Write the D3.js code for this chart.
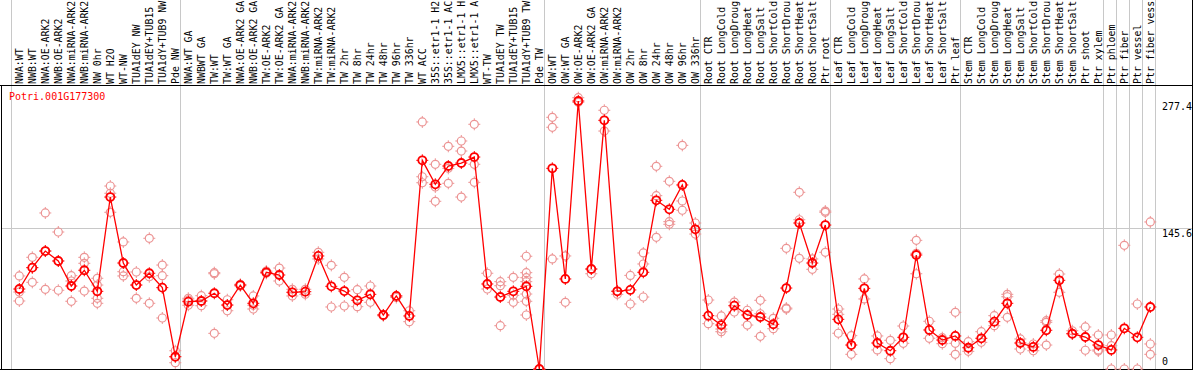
<!DOCTYPE html>
<html>
<head>
<meta charset="utf-8">
<script src="https://cdn.jsdelivr.net/npm/d3@7"></script>
<style>
body { margin: 0; background: #fff; }
svg { display: block; }
text { font-family: "DejaVu Sans Mono", monospace; font-size: 10px; }
text.lab { font-size: 9.9px; }
</style>
</head>
<body>
<div id="chart"></div>
<script>
var gene = "Potri.001G177300";

// labels as they are shown (cut to 14 characters)
var labels = [
    "NWA:WT", "NWB:WT", "NWA:OE-ARK2", "NWB:OE-ARK2", "NWA:miRNA-ARK2", "NWB:miRNA-ARK2",
    "NW 0hr", "WT H2O", "WT-NW", "TUA1dEY NW", "TUA1dEY+TUB15", "TUA1dY+TUB9 NW", "Pde NW",
    "NWA:WT GA", "NWBWT GA", "TW:WT", "TW:WT GA", "NWA:OE-ARK2 GA", "NWB:OE-ARK2 GA",
    "TW:OE-ARK2", "TW:OE-ARK2 GA", "NWA:miRNA-ARK2", "NWB:miRNA-ARK2", "TW:miRNA-ARK2",
    "TW:miRNA-ARK2", "TW 2hr", "TW 8hr", "TW 24hr", "TW 48hr", "TW 96hr", "TW 336hr",
    "WT ACC", "35S::etr1-1 H2", "35S::etr1-1 AC", "LMX5::etr1-1 H", "LMX5::etr1-1 A",
    "WT-TW", "TUA1dEY TW", "TUA1dEY+TUB15", "TUA1dY+TUB9 TW", "Pde TW",
    "OW:WT", "OW:WT GA", "OW:OE-ARK2", "OW:OE-ARK2 GA", "OW:miRNA-ARK2", "OW:miRNA-ARK2",
    "OW 2hr", "OW 8hr", "OW 24hr", "OW 48hr", "OW 96hr", "OW 336hr",
    "Root CTR", "Root LongCold", "Root LongDroug", "Root LongHeat", "Root LongSalt",
    "Root ShortCold", "Root ShortDrou", "Root ShortHeat", "Root ShortSalt", "Ptr root",
    "Leaf CTR", "Leaf LongCold", "Leaf LongDroug", "Leaf LongHeat", "Leaf LongSalt",
    "Leaf ShortCold", "Leaf ShortDrou", "Leaf ShortHeat", "Leaf ShortSalt", "Ptr leaf",
    "Stem CTR", "Stem LongCold", "Stem LongDroug", "Stem LongHeat", "Stem LongSalt",
    "Stem ShortCold", "Stem ShortDrou", "Stem ShortHeat", "Stem ShortSalt", "Ptr shoot",
    "Ptr xylem", "Ptr phloem", "Ptr fiber", "Ptr vessel", "Ptr fiber vess"
];

var means = [
    82.8, 104.9, 122.1, 111.8, 85.9, 102.2, 80.4, 178.0, 109.7, 86.9, 99.1, 84.2, 12.7,
    69.7, 70.4, 78.4, 66.2, 86.9, 68.0, 100.1, 97.3, 79.4, 80.0, 117.0, 85.6, 80.7, 71.1,
    77.3, 55.9, 75.6, 54.9, 216.0, 191.2, 210.1, 213.2, 219.4, 88.0, 74.5, 80.4, 85.6, 0,
    207.7, 93.2, 277.4, 103.5, 257.4, 80.4, 81.8, 100.1, 174.6, 165.3, 190.5, 144.6,
    55.2, 45.5, 65.5, 55.9, 53.8, 46.3, 83.8, 151.1, 109.7, 149.0,
    51.4, 24.8, 83.5, 26.9, 18.9, 32.8, 118.0, 40.4, 30.0,
    34.2, 22.0, 31.8, 49.0, 68.0, 26.9, 22.8, 40.1, 91.8, 36.5,
    33.1, 24.8, 19.7, 42.1, 32.8, 64.2
];

var reps = [
    [96.3, 79.7, 70.4], [115.6, 104.9, 89.7], [161.5, 122.1, 82.5], [141.8, 111.8, 81.5],
    [96.6, 91.1, 70.1], [115.6, 109.4, 80.7], [93.9, 86.9, 73.2, 68.0], [189.4, 181.9, 162.2],
    [131.5, 100.7, 96.3], [100.4, 86.9, 73.2], [135.3, 95.5, 68.0], [107.6, 96.6, 52.8],
    [18.9, 12.7, 6.5], [73.2, 71.4, 66.0], [75.9, 70.4, 65.5], [99.7, 98.6, 36.9],
    [71.7, 66.2, 60.3], [87.7, 86.0], [75.6, 66.0, 62.1], [101.4, 99.0], [104.5, 91.1],
    [82.5, 75.6], [82.5, 77.3], [120.8, 113.9], [107.3, 64.2], [94.9, 65.2], [82.1, 64.5],
    [85.9, 69.0], [56.0, 55.0], [75.6, 74.0], [60.3, 49.0], [255.7, 199.0, 192.8],
    [211.9, 188.4, 173.6], [230.5, 207.7, 192.2], [236.0, 225.6, 178.0], [253.3, 211.9, 193.2],
    [99.1, 82.8], [90.4, 86.2, 44.8], [94.9, 76.3, 69.0],
    [116.7, 99.7, 94.5, 90.4, 77.6, 70.1, 55.9], [0, 0],
    [260.5, 250.2, 113.9], [117.0, 69.0], [280.8, 276.0], [103.5, 98.6], [267.8, 246.3],
    [80.7, 77.3], [96.9, 67.3], [120.1, 108.7, 74.5], [209.8, 179.4, 136.3],
    [194.3, 152.5, 149.8], [231.5, 173.9, 164.3], [151.1, 139.7],
    [71.4, 46.9], [54.9, 41.4, 38.6], [69.3, 59.0], [60.8, 45.5], [71.1, 57.2, 33.8],
    [52.5, 41.7], [124.9, 63.1, 62.1], [182.9, 154.5, 114.6], [113.9, 103.2],
    [163.5, 162.2, 120.8],
    [62.1, 56.6, 37.0], [34.5, 15.2], [93.2, 72.5], [34.2, 19.7], [29.7, 10.7],
    [44.5, 26.6], [133.2, 119.8, 98.6], [49.4, 31.8], [32.4, 26.2],
    [58.7, 26.6, 15.2], [28.3, 18.3], [38.6, 27.6], [55.2, 44.8], [77.3, 74.8, 53.5],
    [31.1, 20.7], [25.9, 18.9], [50.0, 48.3, 24.8], [98.3, 79.4], [39.6, 36.5],
    [43.5, 19.4], [35.2, 19.7, 18.6], [35.2, 24.1, 0], [128.0, 0], [67.3, 0],
    [152.2, 25.9, 15.2]
];

// indices of the last sample in each group (-1 = left edge)
var groupEnds = [-1, 12, 40, 52, 62, 72, 83, 84, 85, 86, 87];
var yTicks = [277.4, 145.6, 0];
var gridValues = [145.6];

var W = 1194, H = 370;
var plotTop = 85, plotBottom = 369;

var x = d3.scaleLinear()
    .domain([0, labels.length - 1])
    .range([19.3, 1150.3]);

var y = d3.scaleLinear()
    .domain([0, d3.max(means)])
    .range([369, 101]);

var svg = d3.select("#chart")
    .append("svg")
    .attr("width", W)
    .attr("height", H);

// horizontal grid
svg.selectAll(".hgrid")
    .data(gridValues)
    .enter()
    .append("line")
    .attr("x1", 1)
    .attr("x2", 1192)
    .attr("y1", function(d) { return Math.round(y(d)) + 0.5; })
    .attr("y2", function(d) { return Math.round(y(d)) + 0.5; })
    .attr("stroke", "#c8c8c8")
    .attr("stroke-width", 1);

// group separators
svg.selectAll(".vgrid")
    .data(groupEnds)
    .enter()
    .append("line")
    .attr("x1", function(d) { return Math.round(x(d) + 5) + 0.5; })
    .attr("x2", function(d) { return Math.round(x(d) + 5) + 0.5; })
    .attr("y1", 0)
    .attr("y2", plotBottom)
    .attr("stroke", "#c8c8c8")
    .attr("stroke-width", 1);

// frame
svg.append("line")
    .attr("x1", 0).attr("x2", 1193)
    .attr("y1", plotTop + 0.5).attr("y2", plotTop + 0.5)
    .attr("stroke", "#000");
svg.append("line")
    .attr("x1", 0).attr("x2", 1193)
    .attr("y1", plotBottom + 0.5).attr("y2", plotBottom + 0.5)
    .attr("stroke", "#000");
svg.append("line")
    .attr("x1", 1.5).attr("x2", 1.5)
    .attr("y1", plotTop).attr("y2", H)
    .attr("stroke", "#000");
svg.append("line")
    .attr("x1", 1192.5).attr("x2", 1192.5)
    .attr("y1", 0).attr("y2", H)
    .attr("stroke", "#000");

// sample labels
svg.selectAll(".lab")
    .data(labels)
    .enter()
    .append("text")
    .attr("class", "lab")
    .attr("transform", function(d, i) {
	return "translate(" + (x(i) + 3.5) + "," + (plotTop - 1) + ") rotate(-90)";
    })
    .attr("fill", "#000")
    .text(function(d) { return d; });

// y labels
svg.selectAll(".ylab")
    .data(yTicks)
    .enter()
    .append("text")
    .attr("x", 1162)
    .attr("y", function(d) { return Math.min(y(d) + 8.5, 365); })
    .attr("fill", "#000")
    .text(function(d) { return d; });

// gene name
svg.append("text")
    .attr("x", 9)
    .attr("y", 100)
    .attr("fill", "#ff0000")
    .text(gene);

var marker = function(g, cx, cy, color, sw) {
    g.append("circle")
	.attr("cx", cx)
	.attr("cy", cy)
	.attr("r", 4)
	.attr("fill", "none")
	.attr("stroke", color)
	.attr("stroke-width", sw);
    var ticks = [[0, -1], [0, 1], [-1, 0], [1, 0]];
    ticks.forEach(function(t) {
	g.append("line")
	    .attr("x1", cx + t[0] * 4)
	    .attr("y1", cy + t[1] * 4)
	    .attr("x2", cx + t[0] * 6)
	    .attr("y2", cy + t[1] * 6)
	    .attr("stroke", color)
	    .attr("stroke-width", 1);
    });
};

// replicates
var repG = svg.append("g");
reps.forEach(function(r, i) {
    r.forEach(function(v) {
	marker(repG, x(i), y(v), "#ec9494", 1.2);
    });
});

// mean line
var line = d3.line()
    .x(function(d, i) { return x(i); })
    .y(function(d) { return y(d); });

svg.append("path")
    .datum(means)
    .attr("d", line)
    .attr("fill", "none")
    .attr("stroke", "#ff0000")
    .attr("stroke-width", 1.3);

var meanG = svg.append("g");
means.forEach(function(v, i) {
    marker(meanG, x(i), y(v), "#ff0000", 1.8);
});
</script>
</body>
</html>
